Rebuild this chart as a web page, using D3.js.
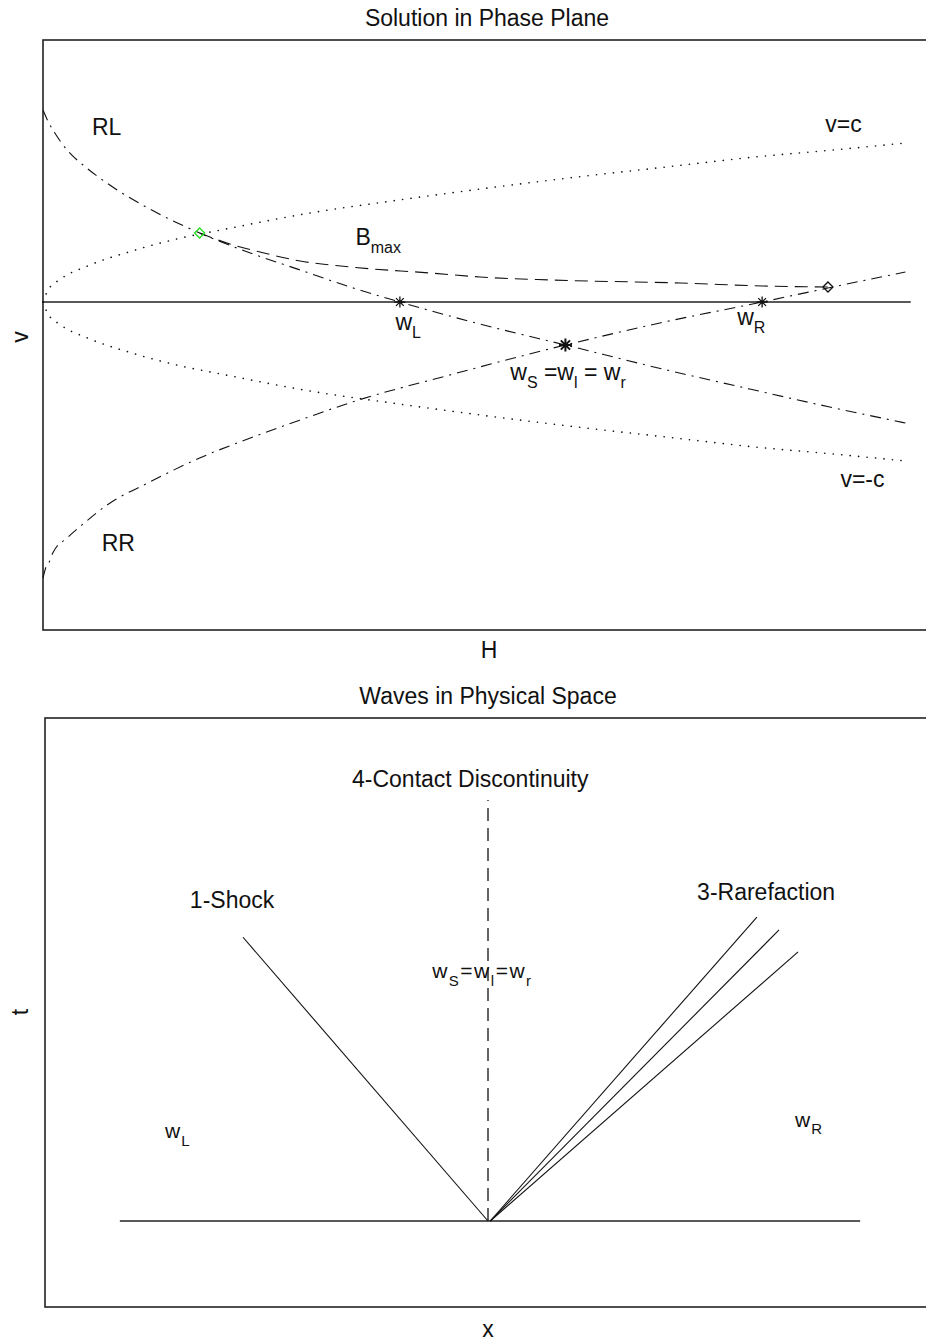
<!DOCTYPE html>
<html>
<head>
<meta charset="utf-8">
<script src="https://cdn.jsdelivr.net/npm/d3@7"></script>
<style>
  html, body { margin: 0; padding: 0; background: #fff; overflow: hidden; }
  svg { display: block; }
  text { font-family: "Liberation Sans", Arial, Helvetica, sans-serif; fill: #111; }
</style>
</head>
<body>
<svg id="chart" width="926" height="1341"></svg>
<script>
// ---------- Phase plane (H, v) ----------
// 1-rarefaction / shock curve through the left state
const curveRL = [
  [0.00, 1.92], [0.06, 1.80], [0.14, 1.68], [0.28, 1.51], [0.45, 1.37],
  [0.75, 1.17], [1.20, 0.93], [1.76, 0.69], [2.33, 0.49], [2.89, 0.32],
  [3.45, 0.15], [4.01, 0.00], [4.57, -0.14], [5.13, -0.27], [5.87, -0.43],
  [6.82, -0.64], [7.94, -0.87], [8.84, -1.05], [9.69, -1.21]
];
// 3-rarefaction / shock curve through the right state
const curveRR = [
  [0.00, -2.76], [0.03, -2.66], [0.07, -2.60], [0.11, -2.51], [0.27, -2.36],
  [0.45, -2.22], [0.72, -2.03], [1.20, -1.80], [1.76, -1.56], [2.33, -1.36],
  [2.89, -1.18], [3.51, -0.99], [4.57, -0.73], [5.87, -0.43], [6.93, -0.21],
  [8.08, 0.00], [8.82, 0.14], [9.69, 0.30]
];
// B_max curve
const curveBmax = [
  [1.76, 0.69], [2.10, 0.58], [2.44, 0.50], [2.89, 0.41], [3.45, 0.35],
  [4.35, 0.29], [4.91, 0.25], [5.70, 0.22], [7.16, 0.19], [8.09, 0.16], [8.82, 0.15]
];
// sonic lines v = c and v = -c
const sonicH = [0, 0.05, 0.2, 0.5, 1, 1.5, 2, 3, 4, 5, 6, 7, 8, 9, 9.69];
const sonicC = [0, 0.11, 0.23, 0.36, 0.51, 0.63, 0.72, 0.89, 1.02, 1.14, 1.25, 1.35, 1.45, 1.53, 1.59];
const zeroLine = [[0, 0], [9.75, 0]];

// states
const stateL = [4.01, 0.00];
const stateR = [8.08, 0.00];
const stateS = [5.87, -0.43];
const bmaxStart = [1.76, 0.69];
const bmaxEnd = [8.82, 0.15];

// ---------- Physical space (x, t) ----------
const baseLine = [[-0.831, 0], [0.840, 0]];
const shockEnd = [-0.553, 0.660];
const contactEnd = [0, 0.979];
const rarefactionEnds = [[0.607, 0.707], [0.657, 0.677], [0.700, 0.626]];

// ---------- drawing ----------
const svg = d3.select("#chart");
const ink = "#111";

// Top panel scales
const P1 = { left: 43, right: 933, top: 40, bottom: 630 };
const xH = d3.scaleLinear().domain([0, 10]).range([P1.left, P1.right]);
const yV = d3.scaleLinear().domain([-3.28, 2.62]).range([P1.bottom, P1.top]);
const lineHV = d3.line().x(d => xH(d[0])).y(d => yV(d[1])).curve(d3.curveMonotoneX);
const straightHV = d3.line().x(d => xH(d[0])).y(d => yV(d[1]));

// Bottom panel scales
const P2 = { left: 45, right: 931, top: 718, bottom: 1307 };
const xX = d3.scaleLinear().domain([-1, 1]).range([P2.left, P2.right]);
const yT = d3.scaleLinear().domain([-0.2, 1.17]).range([P2.bottom, P2.top]);
const lineXT = d3.line().x(d => xX(d[0])).y(d => yT(d[1]));

function frame(P) {
  svg.append("rect")
    .attr("x", P.left).attr("y", P.top)
    .attr("width", P.right - P.left).attr("height", P.bottom - P.top)
    .attr("fill", "none").attr("stroke", "#222").attr("stroke-width", 1.6);
}

function label(x, y, parts, size, subSize, spacing) {
  const t = svg.append("text")
    .attr("x", x).attr("y", y)
    .attr("font-size", size);
  if (spacing) t.attr("letter-spacing", spacing);
  let shifted = 0;
  parts.forEach(([str, sub]) => {
    const ts = t.append("tspan").text(str);
    if (sub && !shifted) { ts.attr("dy", subSize * 0.5).attr("font-size", subSize); shifted = 1; }
    else if (sub) { ts.attr("font-size", subSize); }
    else if (shifted) { ts.attr("dy", -subSize * 0.5); shifted = 0; }
  });
  return t;
}

function star(cx, cy, r, w) {
  const p = d3.path();
  const d = r * Math.SQRT1_2;
  p.moveTo(cx - r, cy); p.lineTo(cx + r, cy);
  p.moveTo(cx, cy - r); p.lineTo(cx, cy + r);
  p.moveTo(cx - d, cy - d); p.lineTo(cx + d, cy + d);
  p.moveTo(cx - d, cy + d); p.lineTo(cx + d, cy - d);
  svg.append("path").attr("d", p.toString())
    .attr("stroke", ink).attr("stroke-width", w).attr("fill", "none");
}

function diamond(cx, cy, r, color) {
  svg.append("path")
    .attr("d", `M${cx - r},${cy}L${cx},${cy - r}L${cx + r},${cy}L${cx},${cy + r}Z`)
    .attr("fill", "none").attr("stroke", color).attr("stroke-width", 1.3);
}

// ===== Top: Solution in Phase Plane =====
frame(P1);
svg.append("text").attr("x", 487).attr("y", 26).attr("text-anchor", "middle")
  .attr("font-size", 23).text("Solution in Phase Plane");

svg.append("path").attr("d", straightHV(zeroLine))
  .attr("stroke", "#222").attr("stroke-width", 1.6).attr("fill", "none");

const upper = sonicH.map((h, i) => [h, sonicC[i]]);
const lower = sonicH.map((h, i) => [h, -sonicC[i]]);
[upper, lower].forEach(c => {
  svg.append("path").attr("d", lineHV(c))
    .attr("stroke", ink).attr("stroke-width", 1.6).attr("fill", "none")
    .attr("stroke-dasharray", "0.1,8.4").attr("stroke-linecap", "round");
});

[curveRL, curveRR].forEach(c => {
  svg.append("path").attr("d", lineHV(c))
    .attr("stroke", ink).attr("stroke-width", 1.1).attr("fill", "none")
    .attr("stroke-dasharray", "11,6,2,6");
});

svg.append("path").attr("d", lineHV(curveBmax))
  .attr("stroke", ink).attr("stroke-width", 1.1).attr("fill", "none")
  .attr("stroke-dasharray", "13,7");

star(xH(stateL[0]), yV(stateL[1]), 5.5, 1.3);
star(xH(stateR[0]), yV(stateR[1]), 5.5, 1.3);
star(xH(stateS[0]), yV(stateS[1]), 6.5, 2);
diamond(xH(bmaxStart[0]), yV(bmaxStart[1]), 5, "#22dd22");
diamond(xH(bmaxEnd[0]), yV(bmaxEnd[1]), 5, ink);

label(xH(0.55), yV(1.67), [["RL"]], 23, 16);
label(xH(0.66), yV(-2.49), [["RR"]], 23, 16);
label(xH(8.79), yV(1.70), [["v=c"]], 23, 16);
label(xH(8.96), yV(-1.85), [["v=-c"]], 23, 16);
label(xH(3.51), yV(0.57), [["B"], ["max", 1]], 23, 16);
label(xH(3.96), yV(-0.28), [["w"], ["L", 1]], 23, 16);
label(xH(7.80), yV(-0.23), [["w"], ["R", 1]], 23, 16);
label(xH(5.25), yV(-0.78), [["w"], ["S", 1], [" =w"], ["l", 1], [" = w"], ["r", 1]], 23, 16);

// axis labels
svg.append("text").attr("x", 489).attr("y", 658).attr("text-anchor", "middle")
  .attr("font-size", 23).text("H");
svg.append("text").attr("transform", "translate(28,337) rotate(-90)")
  .attr("text-anchor", "middle").attr("font-size", 23).text("v");

// ===== Bottom: Waves in Physical Space =====
frame(P2);
svg.append("text").attr("x", 488).attr("y", 704).attr("text-anchor", "middle")
  .attr("font-size", 23).text("Waves in Physical Space");

svg.append("path").attr("d", lineXT(baseLine))
  .attr("stroke", "#222").attr("stroke-width", 1.6).attr("fill", "none");

svg.append("path").attr("d", lineXT([[0, 0], shockEnd]))
  .attr("stroke", ink).attr("stroke-width", 1.1).attr("fill", "none");

svg.append("path").attr("d", lineXT([[0, 0], contactEnd]))
  .attr("stroke", ink).attr("stroke-width", 1.3).attr("fill", "none")
  .attr("stroke-dasharray", "13,7");

rarefactionEnds.forEach(e => {
  svg.append("path").attr("d", lineXT([[0.005, 0], e]))
    .attr("stroke", ink).attr("stroke-width", 1.1).attr("fill", "none");
});

label(xX(-0.307), yT(1.009), [["4-Contact Discontinuity"]], 23, 16);
label(xX(-0.673), yT(0.728), [["1-Shock"]], 23, 16);
label(xX(0.472), yT(0.747), [["3-Rarefaction"]], 23, 16);
label(xX(-0.126), yT(0.565), [["w"], ["S", 1], ["=w"], ["l", 1], ["=w"], ["r", 1]], 21, 15, 1.5);
label(xX(-0.729), yT(0.193), [["w"], ["L", 1]], 21, 15, 1);
label(xX(0.693), yT(0.219), [["w"], ["R", 1]], 21, 15, 1);

svg.append("text").attr("x", 488).attr("y", 1337).attr("text-anchor", "middle")
  .attr("font-size", 23).text("x");
svg.append("text").attr("transform", "translate(28,1012) rotate(-90)")
  .attr("text-anchor", "middle").attr("font-size", 23).text("t");
</script>
</body>
</html>
